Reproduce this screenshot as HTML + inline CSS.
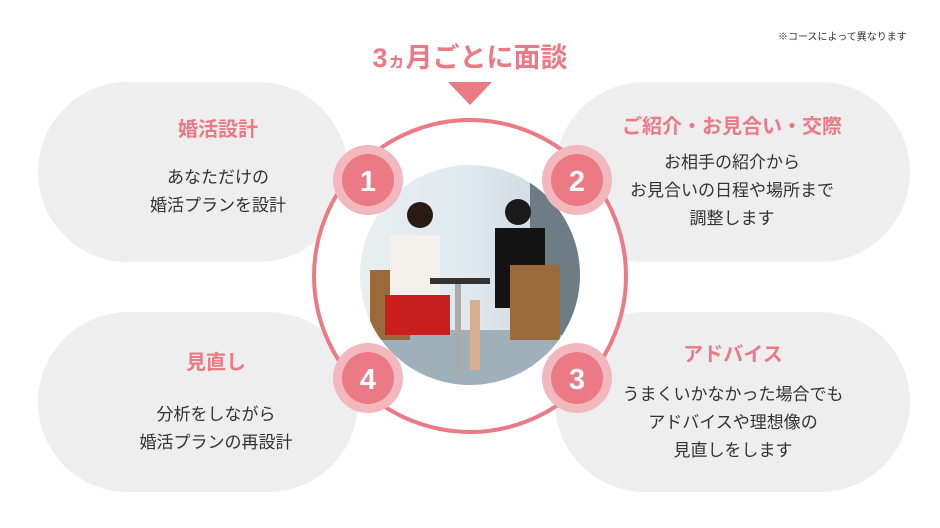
<!DOCTYPE html>
<html><head><meta charset="utf-8"><style>
body{margin:0;width:940px;height:528px;background:#fff;position:relative;overflow:hidden;font-family:"Liberation Sans","Noto Sans CJK JP",sans-serif;}
.pill{position:absolute;background:#eeeeee;border-radius:90px;}
.t{position:absolute;text-align:center;color:#333;font-size:17px;line-height:28px;}
.h{color:#ec7a85;font-weight:bold;font-size:20px;display:block;margin-bottom:20px;}
</style></head><body>
<div class="pill" style="left:38px;top:82px;width:310px;height:180px"></div>
<div class="pill" style="left:555px;top:82px;width:355px;height:180px"></div>
<div class="pill" style="left:38px;top:312px;width:320px;height:180px"></div>
<div class="pill" style="left:555px;top:312px;width:355px;height:180px"></div>
<div style="position:absolute;left:778px;top:28px;font-size:10px;color:#333">※コースによって異なります</div>
<div style="position:absolute;left:360px;top:36px;width:220px;text-align:center;color:#ec7a85;font-weight:bold;font-size:27px">3<span style="font-size:18px">ヵ</span>月ごとに面談</div>
<svg width="940" height="528" style="position:absolute;left:0;top:0">
<polygon points="448,82 492,82 470,105" fill="#ec7a85"/>
<circle cx="470" cy="276" r="156" fill="#fff" stroke="#ec7a85" stroke-width="4"/>
<defs><clipPath id="c"><circle cx="470" cy="275" r="110"/></clipPath>
<linearGradient id="g" x1="0" x2="1"><stop offset="0" stop-color="#e9eef0"/><stop offset="0.5" stop-color="#dfe9ef"/><stop offset="1" stop-color="#c8d2d8"/></linearGradient></defs>
<g clip-path="url(#c)">
<rect x="360" y="165" width="220" height="220" fill="url(#g)"/>
<rect x="360" y="330" width="220" height="60" fill="#9fb0bb"/>
<rect x="530" y="165" width="50" height="170" fill="#6e7c86"/>
<rect x="370" y="270" width="40" height="70" fill="#9a6a3a"/>
<rect x="390" y="235" width="50" height="65" fill="#f4f1ec"/>
<circle cx="420" cy="215" r="13" fill="#2a1a14"/>
<rect x="385" y="295" width="65" height="40" fill="#c81e1e"/>
<rect x="430" y="278" width="60" height="6" fill="#333"/>
<rect x="455" y="284" width="6" height="90" fill="#aaa"/>
<circle cx="518" cy="212" r="13" fill="#1a1a1a"/>
<rect x="495" y="228" width="50" height="80" fill="#141414"/>
<rect x="510" y="265" width="50" height="75" fill="#9b6b3b"/>
<rect x="470" y="300" width="10" height="70" fill="#d8b090"/>
</g>
<g font-weight="bold" font-size="29" fill="#fff" text-anchor="middle" font-family="Liberation Sans">
<circle cx="368" cy="180" r="35" fill="#f2b8bd"/><circle cx="368" cy="180" r="26" fill="#ec7a85"/><text x="368" y="191">1</text>
<circle cx="577" cy="180" r="35" fill="#f2b8bd"/><circle cx="577" cy="180" r="26" fill="#ec7a85"/><text x="577" y="191">2</text>
<circle cx="577" cy="378" r="35" fill="#f2b8bd"/><circle cx="577" cy="378" r="26" fill="#ec7a85"/><text x="577" y="389">3</text>
<circle cx="368" cy="378" r="35" fill="#f2b8bd"/><circle cx="368" cy="378" r="26" fill="#ec7a85"/><text x="368" y="389">4</text>
</g>
</svg>
<div class="t" style="left:118px;top:116px;width:200px"><span class="h">婚活設計</span>あなただけの<br>婚活プランを設計</div>
<div class="t" style="left:597px;top:113px;width:270px"><span class="h" style="margin-bottom:8px">ご紹介・お見合い・交際</span>お相手の紹介から<br>お見合いの日程や場所まで<br>調整します</div>
<div class="t" style="left:96px;top:349px;width:240px"><span class="h" style="margin-bottom:24px">見直し</span>分析をしながら<br>婚活プランの再設計</div>
<div class="t" style="left:598px;top:341px;width:270px"><span class="h" style="margin-bottom:12px">アドバイス</span>うまくいかなかった場合でも<br>アドバイスや理想像の<br>見直しをします</div>
</body></html>
